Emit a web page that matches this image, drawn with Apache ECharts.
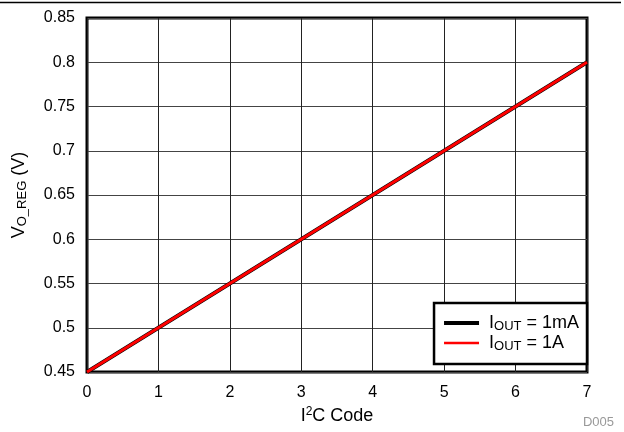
<!DOCTYPE html>
<html><head><meta charset="utf-8">
<script src="https://cdn.jsdelivr.net/npm/echarts@6/dist/echarts.min.js"></script>
<style>html,body{margin:0;padding:0;background:#fff}#c{width:624px;height:432px}</style>
</head><body><div id="c"></div>
<script>
const codes = [0, 1, 2, 3, 4, 5, 6, 7];
const vo1mA = [0.45, 0.50, 0.55, 0.60, 0.65, 0.70, 0.75, 0.80];
const vo1A = [0.45, 0.50, 0.55, 0.60, 0.65, 0.70, 0.75, 0.80];
const yTicks = ['0.45','0.5','0.55','0.6','0.65','0.7','0.75','0.8','0.85'];
const seriesNames = ['IOUT = 1mA', 'IOUT = 1A'];
const legendRich = {'IOUT = 1mA': '{n|I}{s|OUT}{n| = 1mA}', 'IOUT = 1A': '{n|I}{s|OUT}{n| = 1A}'};
const font = 'Liberation Sans, Arial, sans-serif';
const chart = echarts.init(document.getElementById('c'));
chart.setOption({
  animation: false,
  grid: {left: 87, right: 37, top: 18, bottom: 60, show: true, borderColor: '#000', borderWidth: 3, backgroundColor: 'transparent', outerBoundsMode: 'none', containLabel: false},
  xAxis: {
    type: 'value', min: 0, max: 7, interval: 1,
    name: '{n|I}{p|2}{n|C Code}', nameLocation: 'middle', nameGap: 34,
    nameTextStyle: {rich: {n: {fontSize: 18, fontFamily: font, color: '#000'}, p: {fontSize: 12, fontFamily: font, color: '#000', verticalAlign: 'top', padding: [0,0,8,0]}}},
    axisLine: {show: false}, axisTick: {show: false},
    axisLabel: {fontSize: 16, fontFamily: font, color: '#000', margin: 13},
    splitLine: {show: true, lineStyle: {color: '#222', width: 1}}
  },
  yAxis: {
    type: 'value', min: 0.45, max: 0.85, interval: 0.05,
    name: '{n|V}{s|O_REG}{n| (V)}', nameLocation: 'middle', nameGap: 58, nameRotate: 90,
    nameTextStyle: {rich: {n: {fontSize: 18, fontFamily: font, color: '#000'}, s: {fontSize: 13, fontFamily: font, color: '#000', verticalAlign: 'bottom', padding: [7,0,0,0]}}},
    axisLine: {show: false}, axisTick: {show: false},
    axisLabel: {fontSize: 16, fontFamily: font, color: '#000', margin: 12, formatter: v => yTicks.find(t => Math.abs(parseFloat(t) - v) < 1e-6) || ''},
    splitLine: {show: true, lineStyle: {color: '#444', width: 1}}
  },
  legend: {
    data: [{name: seriesNames[0], icon: 'path://M0 0H35V4H0Z'}, {name: seriesNames[1], icon: 'path://M0 0H35V2.5H0Z'}],
    orient: 'vertical', right: 37, bottom: 68,
    backgroundColor: '#fff', borderColor: '#000', borderWidth: 2.5, borderRadius: 0,
    padding: [11, 8, 11, 10], itemGap: 1, itemWidth: 35, itemHeight: 18, symbolKeepAspect: true,
    formatter: n => legendRich[n],
    textStyle: {padding: [0, 0, 0, 5], rich: {n: {fontSize: 18, fontFamily: font, color: '#000'}, s: {fontSize: 13, fontFamily: font, color: '#000', verticalAlign: 'bottom', padding: [7,0,0,0]}}}
  },
  series: [
    {name: seriesNames[0], type: 'line', data: codes.map((c, i) => [c, vo1mA[i]]), symbol: 'none', lineStyle: {color: '#000', width: 4}, itemStyle: {color: '#000'}},
    {name: seriesNames[1], type: 'line', data: codes.map((c, i) => [c, vo1A[i]]), symbol: 'none', lineStyle: {color: '#ff0000', width: 3}, itemStyle: {color: '#ff0000'}}
  ],
  graphic: [
    {type: 'line', shape: {x1: 0, y1: 2.5, x2: 621, y2: 2.5}, style: {stroke: '#000', lineWidth: 1.5}},
    {type: 'text', right: 10, top: 416, style: {text: 'D005', fill: '#999', font: '13px Liberation Sans, Arial, sans-serif'}}
  ]
});
</script></body></html>
